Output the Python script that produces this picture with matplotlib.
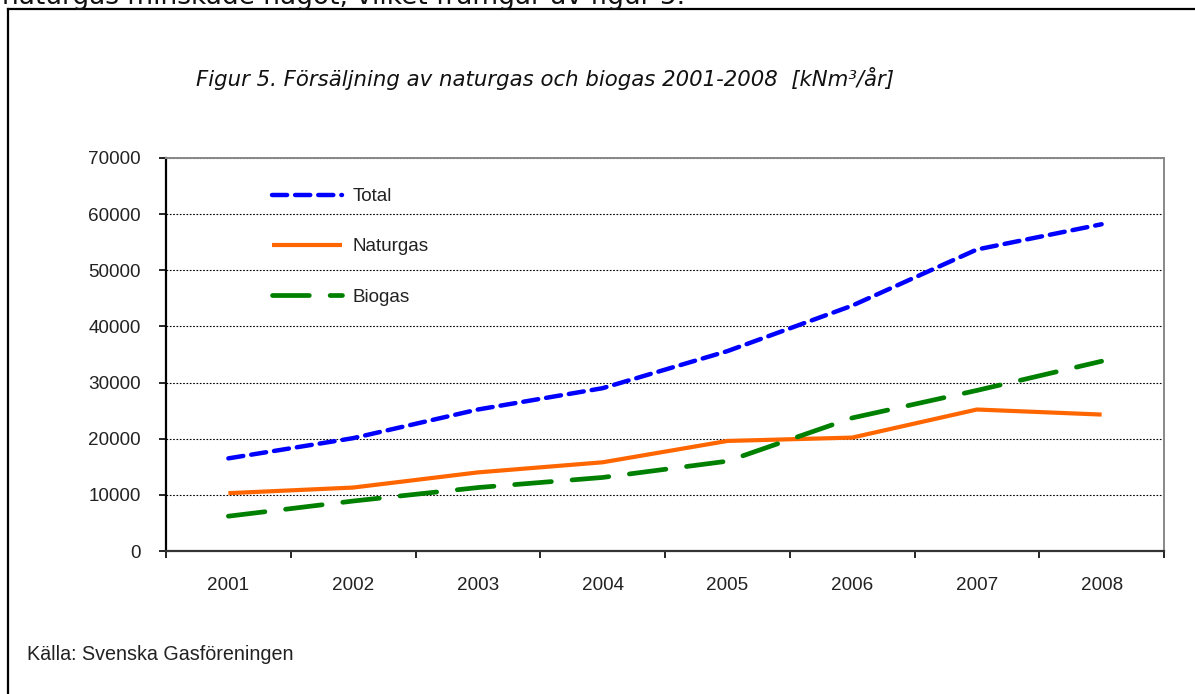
import matplotlib
matplotlib.use("Agg")
import matplotlib.pyplot as plt
from matplotlib.lines import Line2D

years = ["2001", "2002", "2003", "2004", "2005", "2006", "2007", "2008"]
total = [16500, 20100, 25200, 29000, 35600, 43700, 53700, 58200]
naturgas = [10300, 11300, 14000, 15800, 19600, 20200, 25200, 24300]
biogas = [6200, 8900, 11300, 13100, 16000, 23700, 28600, 33800]
yticks = [0, 10000, 20000, 30000, 40000, 50000, 60000, 70000]

W, H = 1195, 694
fig = plt.figure(figsize=(W / 100, H / 100), dpi=100)
fig.patch.set_facecolor("white")

def fx(px):
    return px / W

def fy(py):
    return 1 - py / H

FS = 13.6
ax = fig.add_axes([fx(166), fy(551), fx(1164) - fx(166), fy(158) - fy(551)])

x = list(range(len(years)))
ax.plot(x, total, color="#0000FF", lw=3.2, linestyle=(0, (3.4, 1.8)),
        dash_capstyle="round", label="Total", zorder=3)
ax.plot(x, naturgas, color="#FF6600", lw=3.0, solid_capstyle="butt",
        label="Naturgas", zorder=3)
ax.plot(x, biogas, color="#008000", lw=3.4, linestyle=(0, (7.8, 4.4)),
        dash_capstyle="round", label="Biogas", zorder=3)

ax.set_xlim(-0.5, len(years) - 0.5)
ax.set_ylim(0, 70000)

# Category boundary ticks (major), labels centered (minor)
ax.set_xticks([i - 0.5 for i in range(len(years) + 1)])
ax.set_xticklabels([])
ax.set_xticks(x, minor=True)
ax.set_xticklabels(years, minor=True)
ax.tick_params(axis="x", which="major", length=5, width=1.2, direction="out", color="black")
ax.tick_params(axis="x", which="minor", length=0, pad=19, labelsize=FS)

ax.set_yticks(yticks)
ax.set_yticklabels([str(v) for v in yticks])
ax.tick_params(axis="y", length=5, width=1.2, direction="out", pad=13, labelsize=FS, color="black")

for lbl in ax.get_xticklabels(minor=True) + ax.get_yticklabels():
    lbl.set_fontfamily("Liberation Sans")
    lbl.set_color("#222222")

ax.yaxis.grid(True, color="black", linestyle=(0, (1.5, 1.5)), linewidth=0.8)
ax.set_axisbelow(True)

ax.spines["left"].set_color("black")
ax.spines["left"].set_linewidth(1.6)
ax.spines["bottom"].set_color("#333333")
ax.spines["bottom"].set_linewidth(1.6)
ax.spines["top"].set_color("#888888")
ax.spines["top"].set_linewidth(1.4)
ax.spines["right"].set_color("#888888")
ax.spines["right"].set_linewidth(1.4)

leg = ax.legend(loc="upper left", bbox_to_anchor=(fx(272), fy(188)),
                bbox_transform=fig.transFigure, frameon=False,
                prop={"family": "Liberation Sans", "size": FS},
                handlelength=3.7, handletextpad=0.55, labelspacing=1.75,
                borderpad=0, borderaxespad=0)
for t in leg.get_texts():
    t.set_color("#222222")

# Title
fig.text(fx(196), fy(79), "Figur 5. Försäljning av naturgas och biogas 2001-2008  [kNm³/år]",
         fontsize=15.3, style="italic", family="DejaVu Sans", va="center", ha="left",
         color="#111111")

# Source
fig.text(fx(27), fy(655), "Källa: Svenska Gasföreningen", fontsize=14.2,
         family="Liberation Sans", va="center", ha="left", color="#222222")

# Cropped body text at the top
fig.text(fx(2), fy(4), "naturgas minskade något, vilket framgår av figur 5.",
         fontsize=19, family="DejaVu Sans", va="baseline", ha="left", color="#111111")

# Outer frame (top and left edges)
fig.add_artist(Line2D([fx(7.5), fx(W + 5)], [fy(9), fy(9)], color="black", lw=1.6,
                      transform=fig.transFigure))
fig.add_artist(Line2D([fx(7.5), fx(7.5)], [fy(9), fy(H + 5)], color="black", lw=1.6,
                      transform=fig.transFigure))

fig.savefig("out.png", dpi=100, facecolor="white")
